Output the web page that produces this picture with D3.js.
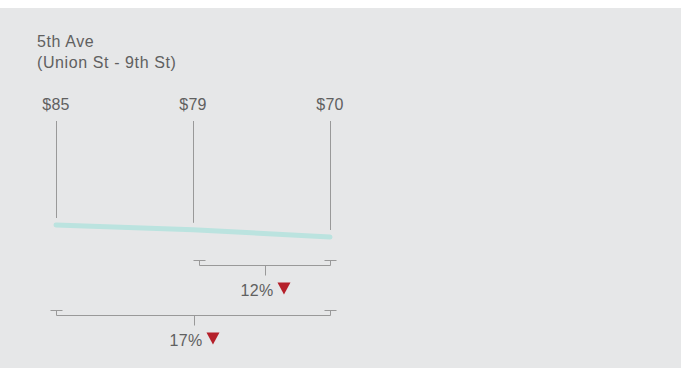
<!DOCTYPE html>
<html>
<head>
<meta charset="utf-8">
<script src="https://cdn.jsdelivr.net/npm/d3@7"></script>
<style>
  body { margin: 0; background: #fff; }
  text { font-family: "Liberation Sans", Arial, sans-serif; fill: #606060; letter-spacing: 0.3px; }
</style>
</head>
<body>
<svg></svg>
<script>
// ====== données ====== //
const titleLines = ["5th Ave", "(Union St - 9th St)"];
const stops = ["$85", "$79", "$70"];
const prices = [85, 79, 70];
const changes = [
  {from: 1, to: 2, label: "12%"},
  {from: 0, to: 2, label: "17%"}
];

const width = 684, height = 368;

const svg = d3.select("svg")
    .attr("width", width)
    .attr("height", height);

// fond gris
svg.append("rect")
    .attr("x", 0).attr("y", 8)
    .attr("width", 681).attr("height", height - 8)
    .attr("fill", "#e6e7e8");

// titre
svg.selectAll(".title")
  .data(titleLines)
  .enter().append("text")
    .attr("x", 37)
    .attr("y", (d, i) => 47 + i * 21)
    .style("font-size", "16px")
    .style("letter-spacing", "0.6px")
    .text(d => d);

// échelles
const x = d3.scalePoint().domain(d3.range(prices.length)).range([56, 330]);
const y = d3.scaleLinear().domain([70, 85]).range([237, 225]);

// étiquettes de prix
svg.selectAll(".price")
  .data(stops)
  .enter().append("text")
    .attr("x", (d, i) => x(i))
    .attr("y", 110)
    .attr("text-anchor", "middle")
    .style("font-size", "16px")
    .text(d => d);

// lignes verticales
svg.selectAll(".stem")
  .data(prices)
  .enter().append("line")
    .attr("x1", (d, i) => x(i) + 0.5)
    .attr("x2", (d, i) => x(i) + 0.5)
    .attr("y1", 121)
    .attr("y2", d => y(d) - 7)
    .attr("stroke", "#999")
    .attr("stroke-width", 1);

// ligne du prix
const line = d3.line()
    .x((d, i) => x(i))
    .y(d => y(d));

svg.append("path")
    .datum(prices)
    .attr("d", line)
    .attr("fill", "none")
    .attr("stroke", "#bbe3df")
    .attr("stroke-width", 5)
    .attr("stroke-linecap", "round");

// crochets de variation
changes.forEach((c, k) => {
  const x0 = x(c.from) + (c.from === 0 ? 0 : 6) + 0.5;
  const x1 = x(c.to) + 0.5;
  const top = 260 + k * 50 + 0.5;
  const base = top + 5;
  const mid = Math.round((x0 + x1) / 2) + 0.5;
  const g = svg.append("g")
      .attr("stroke", "#999")
      .attr("stroke-width", 1)
      .attr("fill", "none");

  g.append("path")
      .attr("d", `M${x0 - 6},${top}H${x0 + 6}M${x0},${top}V${base}H${x1}V${top}M${x1 - 6},${top}H${x1 + 6}M${mid},${base}V${base + 10}`);

  const t = svg.append("text")
      .attr("y", base + 30)
      .style("font-size", "16px")
      .text(c.label);

  const w = t.node().getComputedTextLength();
  const total = w + 4 + 13;
  const tx0 = mid - total / 2;
  t.attr("x", tx0);
  const tx = tx0 + w + 4;
  svg.append("path")
      .attr("d", `M${tx},${base + 17}H${tx + 13}L${tx + 6.5},${base + 29}Z`)
      .attr("fill", "#b5202a");
});
</script>
</body>
</html>
